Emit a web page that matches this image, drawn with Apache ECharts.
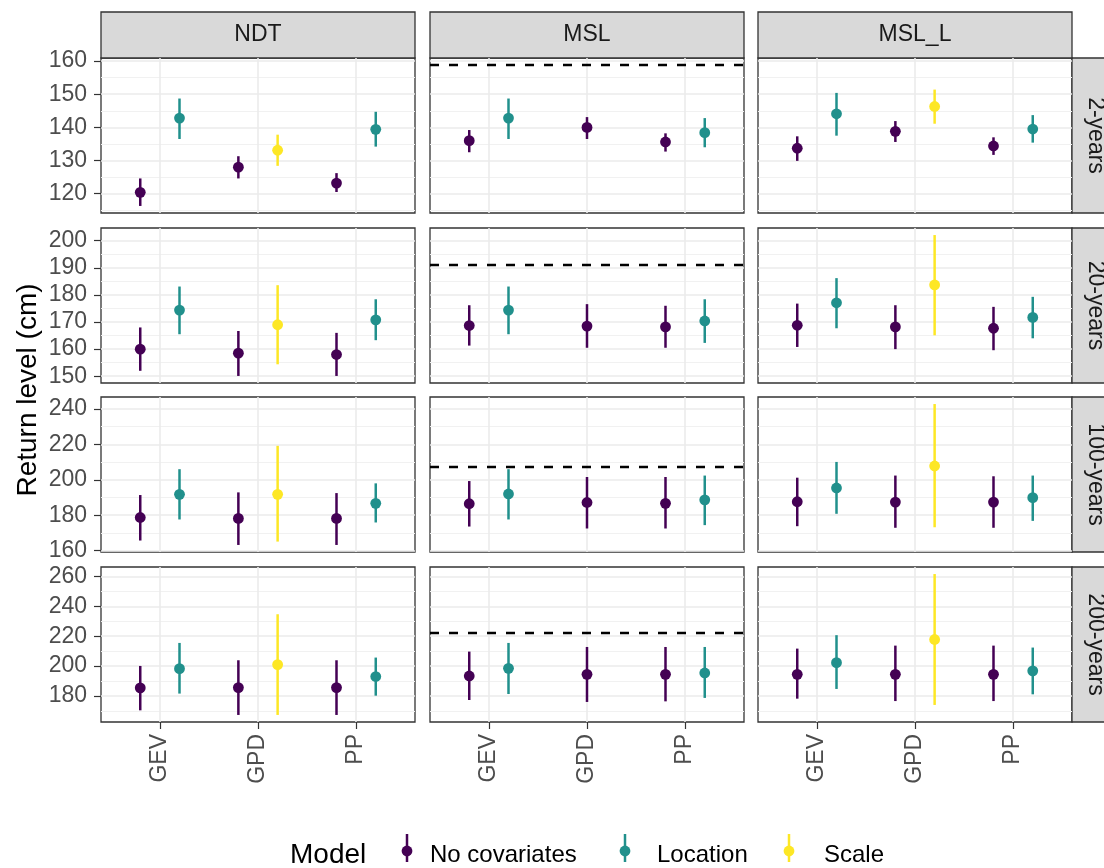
<!DOCTYPE html>
<html>
<head>
<meta charset="utf-8">
<script src="https://cdn.jsdelivr.net/npm/echarts@6/dist/echarts.min.js"></script>
<style>
  html, body { margin: 0; padding: 0; background: #ffffff; }
  #chart { width: 1104px; height: 868px; }
</style>
</head>
<body>
<div id="chart"></div>
<script>
// Facets, categories and groups
const facets = ['NDT', 'MSL', 'MSL_L'];
const periods = ['2-years', '20-years', '100-years', '200-years'];
const methods = ['GEV', 'GPD', 'PP'];
const models = ['No covariates', 'Location', 'Scale'];
const modelColors = ['#440154', '#21908C', '#FDE725'];

// Return level estimates: [facet, method, model, estimate, lower, upper] (cm)
const rl2 = [
  ['NDT', 'GEV', 'No covariates', 120.4, 116.3, 124.6],
  ['NDT', 'GEV', 'Location', 142.8, 136.5, 148.7],
  ['NDT', 'GPD', 'No covariates', 128.0, 124.6, 131.3],
  ['NDT', 'GPD', 'Scale', 133.1, 128.4, 137.8],
  ['NDT', 'PP', 'No covariates', 123.2, 120.5, 126.2],
  ['NDT', 'PP', 'Location', 139.4, 134.2, 144.7],
  ['MSL', 'GEV', 'No covariates', 136.0, 132.5, 139.2],
  ['MSL', 'GEV', 'Location', 142.8, 136.5, 148.7],
  ['MSL', 'GPD', 'No covariates', 140.0, 136.5, 143.1],
  ['MSL', 'PP', 'No covariates', 135.6, 132.7, 138.2],
  ['MSL', 'PP', 'Location', 138.4, 134.0, 142.8],
  ['MSL_L', 'GEV', 'No covariates', 133.7, 129.9, 137.3],
  ['MSL_L', 'GEV', 'Location', 144.1, 137.5, 150.4],
  ['MSL_L', 'GPD', 'No covariates', 138.8, 135.6, 141.9],
  ['MSL_L', 'GPD', 'Scale', 146.3, 141.1, 151.4],
  ['MSL_L', 'PP', 'No covariates', 134.4, 131.7, 137.0],
  ['MSL_L', 'PP', 'Location', 139.5, 135.4, 143.7]
];
const rl20 = [
  ['NDT', 'GEV', 'No covariates', 160.0, 152.0, 168.0],
  ['NDT', 'GEV', 'Location', 174.4, 165.5, 183.1],
  ['NDT', 'GPD', 'No covariates', 158.5, 150.1, 166.7],
  ['NDT', 'GPD', 'Scale', 169.0, 154.4, 183.6],
  ['NDT', 'PP', 'No covariates', 158.0, 150.1, 166.0],
  ['NDT', 'PP', 'Location', 170.8, 163.3, 178.4],
  ['MSL', 'GEV', 'No covariates', 168.7, 161.3, 176.2],
  ['MSL', 'GEV', 'Location', 174.4, 165.5, 183.1],
  ['MSL', 'GPD', 'No covariates', 168.5, 160.5, 176.6],
  ['MSL', 'PP', 'No covariates', 168.2, 160.5, 176.0],
  ['MSL', 'PP', 'Location', 170.4, 162.3, 178.4],
  ['MSL_L', 'GEV', 'No covariates', 168.8, 160.8, 176.8],
  ['MSL_L', 'GEV', 'Location', 177.1, 167.7, 186.2],
  ['MSL_L', 'GPD', 'No covariates', 168.2, 160.0, 176.2],
  ['MSL_L', 'GPD', 'Scale', 183.7, 165.1, 202.1],
  ['MSL_L', 'PP', 'No covariates', 167.7, 159.6, 175.6],
  ['MSL_L', 'PP', 'Location', 171.7, 164.0, 179.3]
];
const rl100 = [
  ['NDT', 'GEV', 'No covariates', 178.7, 165.7, 191.4],
  ['NDT', 'GEV', 'Location', 191.8, 177.6, 206.0],
  ['NDT', 'GPD', 'No covariates', 178.2, 163.2, 192.9],
  ['NDT', 'GPD', 'Scale', 191.8, 165.1, 219.2],
  ['NDT', 'PP', 'No covariates', 178.2, 163.2, 192.5],
  ['NDT', 'PP', 'Location', 186.7, 175.9, 198.0],
  ['MSL', 'GEV', 'No covariates', 186.5, 173.6, 199.3],
  ['MSL', 'GEV', 'Location', 192.0, 177.6, 206.0],
  ['MSL', 'GPD', 'No covariates', 187.2, 172.5, 201.6],
  ['MSL', 'PP', 'No covariates', 186.7, 172.5, 201.6],
  ['MSL', 'PP', 'Location', 188.7, 174.4, 202.4],
  ['MSL_L', 'GEV', 'No covariates', 187.6, 173.8, 201.2],
  ['MSL_L', 'GEV', 'Location', 195.4, 180.8, 210.1],
  ['MSL_L', 'GPD', 'No covariates', 187.4, 172.9, 202.4],
  ['MSL_L', 'GPD', 'Scale', 207.8, 173.2, 242.8],
  ['MSL_L', 'PP', 'No covariates', 187.4, 172.9, 202.0],
  ['MSL_L', 'PP', 'Location', 189.9, 176.8, 202.4]
];
const rl200 = [
  ['NDT', 'GEV', 'No covariates', 185.4, 170.4, 200.1],
  ['NDT', 'GEV', 'Location', 198.3, 181.6, 215.5],
  ['NDT', 'GPD', 'No covariates', 185.6, 167.3, 203.9],
  ['NDT', 'GPD', 'Scale', 201.0, 167.3, 234.7],
  ['NDT', 'PP', 'No covariates', 185.6, 167.3, 203.9],
  ['NDT', 'PP', 'Location', 193.0, 180.2, 205.7],
  ['MSL', 'GEV', 'No covariates', 193.4, 177.3, 209.7],
  ['MSL', 'GEV', 'Location', 198.5, 181.3, 215.5],
  ['MSL', 'GPD', 'No covariates', 194.5, 176.0, 212.8],
  ['MSL', 'PP', 'No covariates', 194.5, 176.4, 212.8],
  ['MSL', 'PP', 'Location', 195.4, 178.7, 212.8],
  ['MSL_L', 'GEV', 'No covariates', 194.5, 178.2, 211.7],
  ['MSL_L', 'GEV', 'Location', 202.3, 184.7, 220.7],
  ['MSL_L', 'GPD', 'No covariates', 194.5, 176.6, 213.7],
  ['MSL_L', 'GPD', 'Scale', 217.8, 174.0, 261.6],
  ['MSL_L', 'PP', 'No covariates', 194.5, 176.6, 213.7],
  ['MSL_L', 'PP', 'Location', 196.8, 181.1, 212.4]
];

// Observed MSL reference level per return period (dashed line in the MSL column)
const mslReference = [158.8, 191.1, 207.1, 222.2];

// Y-axis break labels per return period
const yBreaks = [
  [120, 130, 140, 150, 160],
  [150, 160, 170, 180, 190, 200],
  [160, 180, 200, 220, 240],
  [180, 200, 220, 240, 260]
];

const rowData = [rl2, rl20, rl100, rl200];

// ---- layout ----
const FONT = '"Liberation Sans", Arial, Helvetica, sans-serif';
const panelLeft = [101, 430, 758];
const panelTop = [58, 228, 397, 567];
const panelW = 314;
const panelH = 155;
const stripTopY = 12, stripTopH = 46;
const stripRightX = 1072, stripRightW = 46;
const dodgeWidth = 0.8;
const legendY = 855;
const legendKeyX = [407, 625, 789];
const legendTextX = [430, 657, 824];

// Free y scale per row with 5% expansion of the data range
function rowExtent(r) {
  let lo = mslReference[r], hi = mslReference[r];
  rowData[r].forEach(d => {
    lo = Math.min(lo, d[3], d[4]);
    hi = Math.max(hi, d[3], d[5]);
  });
  const pad = (hi - lo) * 0.05;
  return [lo - pad, hi + pad];
}
function minorBreaks(br, ext) {
  const step = br[1] - br[0];
  const out = [];
  for (let v = br[0] - step / 2; v <= br[br.length - 1] + step / 2 + 1e-9; v += step) {
    if (v >= ext[0] && v <= ext[1]) out.push(v);
  }
  return out;
}

function renderPointRange(params, api) {
  const x = api.value(0);
  const pC = api.coord([x, api.value(1)]);
  const pLo = api.coord([x, api.value(2)]);
  const pHi = api.coord([x, api.value(3)]);
  const color = api.visual('color');
  return {
    type: 'group',
    children: [
      { type: 'line', shape: { x1: pLo[0], y1: pLo[1], x2: pHi[0], y2: pHi[1] },
        style: { stroke: color, lineWidth: 2.5 } },
      { type: 'circle', shape: { cx: pC[0], cy: pC[1], r: 5.4 },
        style: { fill: color } }
    ]
  };
}

const grids = [], xAxes = [], yAxes = [], series = [], graphics = [];

periods.forEach((period, r) => {
  const ext = rowExtent(r);
  const minors = minorBreaks(yBreaks[r], ext);
  facets.forEach((facet, c) => {
    const gi = r * 3 + c;
    grids.push({
      left: panelLeft[c], top: panelTop[r], width: panelW, height: panelH,
      show: true, borderColor: '#333333', borderWidth: 1.3, backgroundColor: '#ffffff'
    });
    xAxes.push({
      type: 'value', gridIndex: gi, min: 0.4, max: 3.6,
      axisLine: { show: false },
      axisTick: { show: r === 3, customValues: [1, 2, 3], length: 7,
        lineStyle: { color: '#333333', width: 1.2 } },
      axisLabel: { show: r === 3, customValues: [1, 2, 3], rotate: 90, margin: 12,
        formatter: v => methods[Math.round(v) - 1],
        color: '#4D4D4D', fontSize: 23, fontFamily: FONT },
      splitLine: { show: true, lineStyle: { color: '#EBEBEB', width: 1.6 } }
    });
    // major breaks
    yAxes.push({
      type: 'value', gridIndex: gi, min: ext[0], max: ext[1],
      axisLine: { show: false },
      axisTick: { show: c === 0, customValues: yBreaks[r], length: 7,
        lineStyle: { color: '#333333', width: 1.2 } },
      axisLabel: { show: c === 0, customValues: yBreaks[r], margin: 14,
        color: '#4D4D4D', fontSize: 23, fontFamily: FONT },
      splitLine: { show: true, lineStyle: { color: '#EBEBEB', width: 1.6 } }
    });
    // minor breaks
    yAxes.push({
      type: 'value', gridIndex: gi, min: ext[0], max: ext[1], position: 'left',
      axisLine: { show: false },
      axisTick: { show: false, customValues: minors },
      axisLabel: { show: false, customValues: minors },
      splitLine: { show: true, lineStyle: { color: '#F1F1F1', width: 1 } }
    });

    const cell = rowData[r].filter(d => d[0] === facet);
    models.forEach((model, k) => {
      const pts = cell.filter(d => d[2] === model);
      if (!pts.length) return;
      const data = pts.map(d => {
        const group = cell.filter(e => e[1] === d[1])
          .sort((a, b) => models.indexOf(a[2]) - models.indexOf(b[2]));
        const n = group.length;
        const j = group.indexOf(d);
        const x = methods.indexOf(d[1]) + 1 + (j - (n - 1) / 2) * (dodgeWidth / n);
        return [x, d[3], d[4], d[5]];
      });
      series.push({
        type: 'custom', name: model, xAxisIndex: gi, yAxisIndex: gi * 2,
        itemStyle: { color: modelColors[k] }, silent: true, z: 3,
        encode: { x: 0, y: [1, 2, 3] },
        renderItem: renderPointRange, data
      });
    });

    if (facet === 'MSL') {
      series.push({
        type: 'line', name: 'MSL reference', xAxisIndex: gi, yAxisIndex: gi * 2,
        data: [], silent: true, z: 2,
        markLine: {
          silent: true, symbol: 'none', animation: false,
          label: { show: false },
          lineStyle: { color: '#000000', width: 2.4, type: [9, 10] },
          data: [{ yAxis: mslReference[r] }]
        }
      });
    }
  });

  // right strip
  graphics.push({
    type: 'rect', shape: { x: stripRightX, y: panelTop[r], width: stripRightW, height: panelH },
    style: { fill: '#D9D9D9', stroke: '#333333', lineWidth: 1.3 }
  });
  graphics.push({
    type: 'text', x: stripRightX + stripRightW / 2, y: panelTop[r] + panelH / 2,
    rotation: -Math.PI / 2,
    style: { text: period, x: 0, y: 0, textAlign: 'center', textVerticalAlign: 'middle',
      align: 'center', verticalAlign: 'middle',
      fontSize: 23, fontFamily: FONT, fill: '#1A1A1A' }
  });
});

// top strips
facets.forEach((facet, c) => {
  graphics.push({
    type: 'rect', shape: { x: panelLeft[c], y: stripTopY, width: panelW, height: stripTopH },
    style: { fill: '#D9D9D9', stroke: '#333333', lineWidth: 1.3 }
  });
  graphics.push({
    type: 'text', x: panelLeft[c] + panelW / 2, y: stripTopY + stripTopH / 2,
    style: { text: facet, x: 0, y: 0, textAlign: 'center', textVerticalAlign: 'middle',
      align: 'center', verticalAlign: 'middle',
      fontSize: 23, fontFamily: FONT, fill: '#1A1A1A' }
  });
});

// y-axis title
graphics.push({
  type: 'text', x: 28, y: (panelTop[0] + panelTop[3] + panelH) / 2, rotation: Math.PI / 2,
  style: { text: 'Return level (cm)', x: 0, y: 0, textAlign: 'center', textVerticalAlign: 'middle',
    align: 'center', verticalAlign: 'middle',
    fontSize: 28, fontFamily: FONT, fill: '#000000' }
});

// legend: title, pointrange keys and labels
graphics.push({
  type: 'text', x: 290, y: legendY,
  style: { text: 'Model', x: 0, y: 0, textAlign: 'left', textVerticalAlign: 'middle',
    align: 'left', verticalAlign: 'middle',
    fontSize: 28, fontFamily: FONT, fill: '#000000' }
});
models.forEach((model, k) => {
  graphics.push({
    type: 'line', shape: { x1: legendKeyX[k], y1: legendY - 21, x2: legendKeyX[k], y2: legendY + 7 },
    style: { stroke: modelColors[k], lineWidth: 2.5 }
  });
  graphics.push({
    type: 'circle', shape: { cx: legendKeyX[k], cy: legendY - 4, r: 5.4 },
    style: { fill: modelColors[k] }
  });
  graphics.push({
    type: 'text', x: legendTextX[k], y: legendY,
    style: { text: model, x: 0, y: 0, textAlign: 'left', textVerticalAlign: 'middle',
      align: 'left', verticalAlign: 'middle',
      fontSize: 24, fontFamily: FONT, fill: '#000000' }
  });
});

const option = {
  animation: false,
  backgroundColor: '#ffffff',
  grid: grids,
  xAxis: xAxes,
  yAxis: yAxes,
  series: series,
  graphic: { elements: graphics }
};

const chart = echarts.init(document.getElementById('chart'), null, { renderer: 'canvas' });
chart.setOption(option);
</script>
</body>
</html>
